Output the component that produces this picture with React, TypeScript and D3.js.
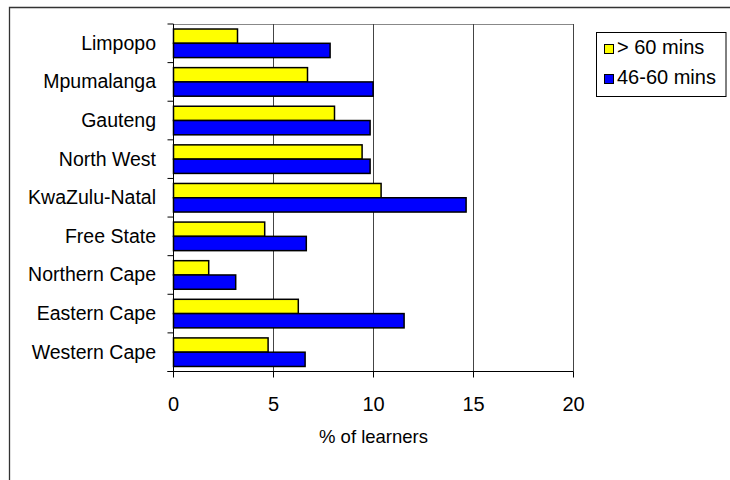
import React, { useRef, useEffect } from 'react';
import * as d3 from 'd3';

const provinces = [
  "Limpopo", "Mpumalanga", "Gauteng", "North West", "KwaZulu-Natal",
  "Free State", "Northern Cape", "Eastern Cape", "Western Cape"
];
const over60 = [3.2, 6.7, 8.05, 9.43, 10.38, 4.56, 1.76, 6.24, 4.73];
const mins46to60 = [7.83, 9.98, 9.83, 9.83, 14.63, 6.64, 3.11, 11.53, 6.58];
const seriesNames = ["> 60 mins", "46-60 mins"];
const seriesColors = ["#ffff00", "#0000ff"];
const xTicks = [0, 5, 10, 15, 20];

const App: React.FC = () => {
  const ref = useRef<SVGSVGElement>(null);

  useEffect(() => {
    if (!ref.current) return;
    const svg = d3.select(ref.current);
    svg.selectAll("*").remove();

    const font = "'Liberation Sans', Arial, sans-serif";
    const left = 173.5, right = 573.5, top = 24, bottom = 371.5;

    // outer frame (only top and left visible)
    svg.append("path")
      .attr("d", "M9.5,480 L9.5,7.5 L730,7.5")
      .attr("fill", "none")
      .attr("stroke", "#333")
      .attr("stroke-width", 1.3);

    const x = d3.scaleLinear().domain([0, 20]).range([left, right]);
    const y = d3.scaleBand<string>()
      .domain(provinces)
      .range([top, bottom])
      .paddingInner(0.26)
      .paddingOuter(0.13);
    const ySub = d3.scaleBand<number>()
      .domain([0, 1])
      .range([0, y.bandwidth()]);

    // plot top border
    svg.append("line")
      .attr("x1", left).attr("x2", right)
      .attr("y1", top + 0.5).attr("y2", top + 0.5)
      .attr("stroke", "#888").attr("stroke-width", 1);

    // gridlines
    svg.selectAll(".grid")
      .data(xTicks.slice(1))
      .enter().append("line")
      .attr("x1", d => x(d)).attr("x2", d => x(d))
      .attr("y1", top).attr("y2", bottom)
      .attr("stroke", "#444")
      .attr("stroke-width", 1);

    // bars
    const rows = provinces.map((p, i) => ({ p, vals: [over60[i], mins46to60[i]] }));
    const g = svg.selectAll(".row")
      .data(rows)
      .enter().append("g")
      .attr("transform", d => `translate(0,${y(d.p)})`);
    g.selectAll("rect")
      .data(d => d.vals)
      .enter().append("rect")
      .attr("x", x(0))
      .attr("y", (_d, i) => ySub(i)!)
      .attr("width", d => x(d) - x(0))
      .attr("height", ySub.bandwidth())
      .attr("fill", (_d, i) => seriesColors[i])
      .attr("stroke", "#000")
      .attr("stroke-width", 1.5);

    // y axis
    const step = y.step();
    svg.append("line")
      .attr("x1", left).attr("x2", left)
      .attr("y1", top).attr("y2", bottom)
      .attr("stroke", "#000").attr("stroke-width", 1);
    svg.selectAll(".ytick")
      .data(d3.range(provinces.length + 1))
      .enter().append("line")
      .attr("x1", left - 6).attr("x2", left)
      .attr("y1", i => top + i * step).attr("y2", i => top + i * step)
      .attr("stroke", "#000").attr("stroke-width", 1);
    svg.selectAll(".ylabel")
      .data(provinces)
      .enter().append("text")
      .attr("x", 156)
      .attr("y", d => y(d)! + y.bandwidth() / 2 + 6.5)
      .attr("text-anchor", "end")
      .attr("font-family", font)
      .attr("font-size", 19.5)
      .attr("fill", "#000")
      .text(d => d);

    // x axis
    svg.append("line")
      .attr("x1", left - 6).attr("x2", right)
      .attr("y1", bottom).attr("y2", bottom)
      .attr("stroke", "#000").attr("stroke-width", 1);
    svg.selectAll(".xtick")
      .data(xTicks)
      .enter().append("line")
      .attr("x1", d => x(d)).attr("x2", d => x(d))
      .attr("y1", bottom).attr("y2", bottom + 6)
      .attr("stroke", "#000").attr("stroke-width", 1);
    svg.selectAll(".xlabel")
      .data(xTicks)
      .enter().append("text")
      .attr("x", d => x(d))
      .attr("y", 411)
      .attr("text-anchor", "middle")
      .attr("font-family", font)
      .attr("font-size", 20)
      .text(d => d);
    svg.append("text")
      .attr("x", (left + right) / 2)
      .attr("y", 443)
      .attr("text-anchor", "middle")
      .attr("font-family", font)
      .attr("font-size", 18.5)
      .text("% of learners");

    // legend
    svg.append("rect")
      .attr("x", 596.5).attr("y", 32.5)
      .attr("width", 129.5).attr("height", 64)
      .attr("fill", "#fff")
      .attr("stroke", "#000").attr("stroke-width", 1);
    const lg = svg.selectAll(".legend")
      .data(seriesNames)
      .enter().append("g")
      .attr("transform", (_d, i) => `translate(0,${i * 30})`);
    lg.append("rect")
      .attr("x", 604.5).attr("y", 44.5)
      .attr("width", 9).attr("height", 9)
      .attr("fill", (_d, i) => seriesColors[i])
      .attr("stroke", "#000").attr("stroke-width", 1);
    lg.append("text")
      .attr("x", 617).attr("y", 54)
      .attr("font-family", font)
      .attr("font-size", 20)
      .text(d => d);
  }, []);

  return (
    <svg ref={ref} width={730} height={480}
      style={{ position: 'absolute', left: 0, top: 0, background: '#fff' }} />
  );
};

export default App;
